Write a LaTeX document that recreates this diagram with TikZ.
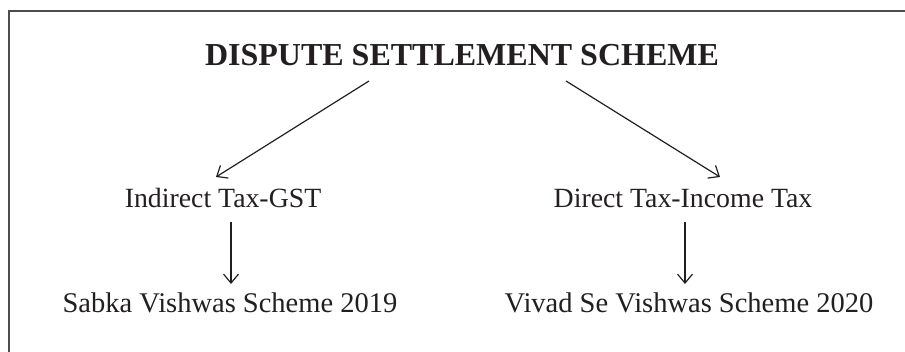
\documentclass[tikz,border=0pt]{standalone}
\usepackage{fontspec}
\setmainfont{Liberation Serif}
\usetikzlibrary{arrows.meta}
\definecolor{ink}{HTML}{231F20}
\begin{document}
\begin{tikzpicture}[x=1pt,y=-1pt,
  lbl/.style={anchor=base,inner sep=0pt,text=ink,font=\fontsize{27.8}{32}\selectfont},
  lblb/.style={anchor=base,inner sep=0pt,text=ink,font=\fontsize{28.5}{33}\selectfont},
  ttl/.style={anchor=base,inner sep=0pt,text=ink,font=\fontsize{32}{36}\selectfont\bfseries},
  arr/.style={draw=ink,line width=1.2pt,-{Straight Barb[length=9pt,width=15pt,line width=1.2pt]}},
  frame/.style={draw=ink!80,line width=1.6pt}]
\useasboundingbox (0,0) rectangle (905,352);
\draw[frame] (9,360) -- (9,11) -- (910,11);
\node[ttl] (title) at (462,66) {DISPUTE SETTLEMENT SCHEME};
\node[lbl] (gst) at (223,208) {Indirect Tax-GST};
\node[lbl] (it) at (683,208) {Direct Tax-Income Tax};
\node[lblb] (sv) at (230,313) {Sabka Vishwas Scheme 2019};
\node[lblb] (vv) at (689,313) {Vivad Se Vishwas Scheme 2020};
\coordinate (tl) at (369,81);
\coordinate (tr) at (566,81);
\coordinate (gsttop) at (216,177);
\coordinate (ittop) at (720,177);
\coordinate (gstbot) at (231,222);
\coordinate (itbot) at (685,222);
\coordinate (svtop) at (231,284);
\coordinate (vvtop) at (685,284);
\draw[arr] (tl) -- (gsttop);
\draw[arr] (tr) -- (ittop);
\draw[arr] (gstbot) -- (svtop);
\draw[arr] (itbot) -- (vvtop);
\end{tikzpicture}
\end{document}
